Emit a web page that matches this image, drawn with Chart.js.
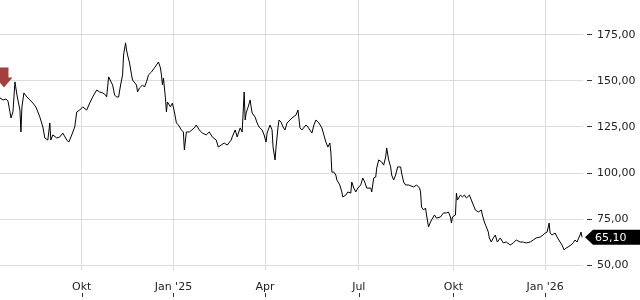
<!DOCTYPE html>
<html>
<head>
<meta charset="utf-8">
<script src="https://cdn.jsdelivr.net/npm/chart.js@4"></script>
<style>
  html, body { margin: 0; padding: 0; background: #fff; }
  #wrap { width: 640px; height: 300px; }
</style>
</head>
<body>
<div id="wrap"><canvas id="myChartline" width="640" height="300"></canvas></div>
<script>
// day index along the x axis and closing prices
var days = [0,3,6,8,10,11,13,15,17,20,21,22,24,27,30,33,36,38,40,43,45,48,50,51,53,57,60,63,67,69,72,75,77,80,83,87,90,93,97,100,
  103,106,107,109,112,113,115,117,119,121,123,124,126,127,128,130,132,133,137,138,140,143,145,147,149,152,155,157,159,161,
  162,163,164,165,166,167,168,171,173,175,177,179,182,184,185,187,190,195,197,200,203,207,210,213,217,219,222,225,228,232,
  233,236,238,241,243,245,246,247,249,251,252,253,256,258,260,263,265,267,268,271,273,274,276,277,279,280,282,284,286,288,
  291,293,297,299,301,303,307,309,313,315,317,320,323,325,327,329,331,332,333,335,337,338,341,343,344,347,349,352,353,355,
  357,359,362,364,366,368,372,373,375,377,378,380,383,385,387,388,390,392,393,395,397,399,402,403,405,407,410,415,418,421,
  422,423,425,427,428,430,432,433,436,438,442,445,448,450,452,453,454,457,458,459,462,464,466,468,471,473,475,477,480,483,
  484,486,488,490,491,493,495,497,499,502,505,508,512,515,518,522,525,528,532,535,538,542,545,547,549,551,552,554,557,559,
  562,564,566,568,570,573,575,577,579,582,583,584];
var prices = [140.8,139.7,140.2,139.1,133.2,129.9,133.2,149.5,142.4,134.2,122.3,135.9,143.5,141.3,139.7,138.0,135.9,133.2,130.4,125.0,
  119.0,117.9,127.2,117.9,120.7,119.0,119.6,121.7,117.9,116.8,120.7,125.0,133.2,134.2,135.9,134.2,138.0,141.3,145.1,144.0,
  143.5,142.4,141.3,152.2,148.9,147.8,142.4,141.3,141.3,147.8,153.3,164.1,170.7,166.8,164.1,159.8,153.3,150.5,147.8,144.0,
  146.2,147.8,146.7,149.5,153.3,154.9,157.1,158.7,160.3,157.1,153.3,147.8,151.6,146.2,140.8,133.2,138.6,135.9,138.0,133.2,
  127.2,126.1,123.4,122.3,112.5,122.3,122.3,124.5,126.1,123.4,121.7,120.7,122.3,119.6,117.9,114.1,115.2,116.3,115.2,117.9,
  119.6,123.4,119.6,124.5,122.3,144.0,128.8,132.6,135.9,139.7,135.9,132.6,130.4,127.2,125.0,123.4,120.7,116.8,121.7,126.1,
  123.4,114.1,107.1,114.1,125.0,128.8,127.7,125.0,123.4,127.2,128.8,129.9,131.5,134.2,124.5,123.4,126.1,125.0,121.7,126.1,
  128.8,127.2,124.5,120.7,116.8,114.1,116.3,111.4,100.5,100.5,98.9,96.2,93.5,89.7,87.0,88.0,89.7,89.1,95.1,91.8,
  89.7,91.8,93.5,97.3,95.1,91.8,91.8,89.7,97.3,97.8,102.7,107.1,106.0,104.3,108.7,113.6,107.1,103.3,98.9,96.2,
  98.9,103.3,103.3,100.0,95.1,93.5,93.5,92.4,93.5,91.8,89.7,81.5,79.9,81.0,77.2,70.7,73.4,74.5,77.2,75.5,
  76.1,78.3,78.3,78.8,76.1,72.8,76.1,77.2,89.1,85.3,88.0,87.0,88.0,86.4,88.0,85.3,82.6,79.9,78.8,79.9,
  77.2,73.4,70.7,67.9,64.7,62.5,64.7,66.3,62.5,64.7,62.0,62.5,60.9,62.0,63.6,62.5,62.5,62.0,62.5,63.6,
  64.7,65.2,66.3,67.4,67.9,72.8,67.4,66.3,67.4,65.2,62.5,60.9,58.2,59.2,59.8,60.9,62.0,63.6,62.5,66.3,
  67.9,65.1];

var tickDays = [82, 174, 266, 360, 455, 547];
var tickLabels = ['Okt', "Jan '25", 'Apr', 'Jul', 'Okt', "Jan '26"];
var yTicks = [50, 75, 100, 125, 150, 175];

var markerDay = 4;
var markerPrice = 146.5;

function fmt(v) {
  return v.toFixed(2).replace('.', ',');
}

var extras = {
  id: 'extras',
  afterDraw: function(chart) {
    var ctx = chart.ctx;
    var xs = chart.scales.x, ys = chart.scales.y;
    ctx.save();

    // little tick marks under the month labels
    ctx.strokeStyle = '#333';
    ctx.lineWidth = 1;
    tickDays.forEach(function(d) {
      var px = Math.round(xs.getPixelForValue(d)) + 0.5;
      ctx.beginPath();
      ctx.moveTo(px, 293);
      ctx.lineTo(px, 297);
      ctx.stroke();
    });

    // red arrow marker at the start
    var ax = xs.getPixelForValue(markerDay);
    var ay = ys.getPixelForValue(markerPrice);
    ctx.fillStyle = '#a1403d';
    ctx.beginPath();
    ctx.moveTo(ax - 4.5, ay - 20);
    ctx.lineTo(ax + 4.5, ay - 20);
    ctx.lineTo(ax + 4.5, ay - 10);
    ctx.lineTo(ax + 8.5, ay - 10);
    ctx.lineTo(ax, ay);
    ctx.lineTo(ax - 8.5, ay - 10);
    ctx.lineTo(ax - 4.5, ay - 10);
    ctx.closePath();
    ctx.fill();

    // last value tag
    var last = prices[prices.length - 1];
    var ly = ys.getPixelForValue(last);
    var lx = chart.chartArea.right + 2;
    ctx.fillStyle = '#000';
    ctx.beginPath();
    ctx.moveTo(lx, ly);
    ctx.lineTo(lx + 8, ly - 7.5);
    ctx.lineTo(640, ly - 7.5);
    ctx.lineTo(640, ly + 7.5);
    ctx.lineTo(lx + 8, ly + 7.5);
    ctx.closePath();
    ctx.fill();
    ctx.fillStyle = '#fff';
    ctx.font = '11px "DejaVu Sans"';
    ctx.textBaseline = 'middle';
    ctx.textAlign = 'left';
    ctx.fillText(fmt(last), lx + 10, ly + 0.5);
    ctx.restore();
  }
};

Chart.defaults.font.family = '"DejaVu Sans", sans-serif';
Chart.defaults.font.size = 11;
Chart.defaults.color = '#222';

var points = days.map(function(d, i) { return { x: d, y: prices[i] }; });

var ctx = document.getElementById('myChartline').getContext('2d');
var chart = new Chart(ctx, {
  type: 'line',
  data: {
    datasets: [{
      data: points,
      borderColor: '#000',
      borderWidth: 1,
      pointRadius: 0,
      tension: 0,
      fill: false
    }]
  },
  options: {
    responsive: false,
    animation: false,
    devicePixelRatio: 1,
    layout: { padding: { top: 0, left: 0, right: 5, bottom: 0 } },
    plugins: {
      legend: { display: false },
      tooltip: { enabled: false }
    },
    scales: {
      x: {
        type: 'linear',
        min: 0,
        max: 585,
        afterBuildTicks: function(scale) {
          scale.ticks = tickDays.map(function(d) { return { value: d }; });
        },
        afterFit: function(scale) {
          scale.height = 30;
          scale.paddingLeft = 0;
          scale.paddingRight = 0;
        },
        ticks: {
          maxRotation: 0,
          autoSkip: false,
          padding: 11,
          callback: function(value, index) { return tickLabels[index]; }
        },
        grid: { color: '#dcdcdc', drawTicks: false },
        border: { display: false }
      },
      y: {
        position: 'right',
        min: 47.3,
        max: 194,
        afterBuildTicks: function(scale) {
          scale.ticks = yTicks.map(function(v) { return { value: v }; });
        },
        afterFit: function(scale) {
          scale.width = 52;
          scale.paddingTop = 0;
          scale.paddingBottom = 0;
        },
        ticks: {
          padding: 5,
          callback: function(value) { return fmt(value); }
        },
        grid: {
          color: '#dcdcdc',
          tickColor: '#333',
          tickLength: 9,
          tickBorderDash: [0, 4, 5, 20]
        },
        border: { display: false }
      }
    }
  },
  plugins: [extras]
});
</script>
</body>
</html>
